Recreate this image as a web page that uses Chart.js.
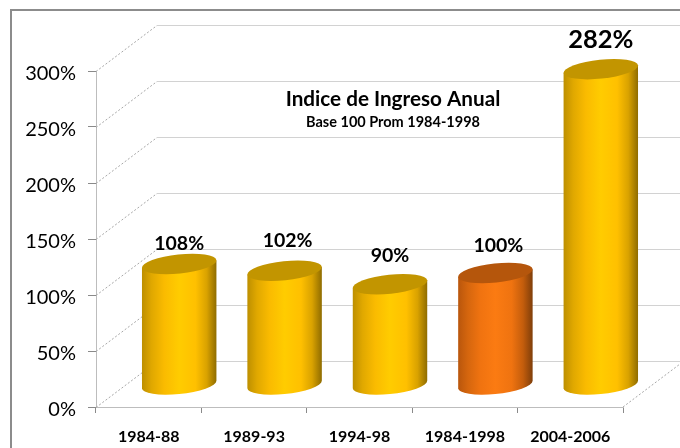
<!DOCTYPE html>
<html>
<head>
<meta charset="utf-8">
<title>Indice de Ingreso Anual</title>
<script src="https://cdn.jsdelivr.net/npm/chart.js@4"></script>
<style>
  html, body { margin: 0; padding: 0; background: #fff; }
  canvas { display: block; }
</style>
</head>
<body>
<canvas id="ingreso" width="680" height="448"></canvas>
<script>
const periodos = ['1984-88', '1989-93', '1994-98', '1984-1998', '2004-2006'];
const indice = [108, 102, 90, 100, 282];
const ticksY = [0, 50, 100, 150, 200, 250, 300];

// colores del cilindro, el de referencia va en naranja
const dorado = { top: '#c29500', stops: ['#bd8f00', '#e0a800', '#fabb00', '#ffcc00', '#ffc000', '#d9a200', '#8f6c00'] };
const naranja = { top: '#b5560c', stops: ['#b9560c', '#d5660e', '#f07310', '#fb7b12', '#ef7310', '#c45d0c', '#7f3e0a'] };
const coloresBarra = [dorado, dorado, dorado, naranja, dorado];

// ajustes de las etiquetas respecto a la cima de cada barra
const etiquetaDx = [0, 3, 0, 3, 0];
const etiquetaDy = [-20, -30, -28, -27, -29];
const etiquetaPx = [19.5, 19.5, 19.5, 19.5, 25.5];

const fondoDx = 61;
const fondoDy = 46;
const medioDx = 30.5;
const medioDy = 22;

function cilindro(ctx, cx, arriba, base, rx, color) {
    const ry = 9.5;
    const rot = -6 * Math.PI / 180;
    const t = Math.atan(-(ry / rx) * Math.tan(rot));
    const ax = rx * Math.cos(t) * Math.cos(rot) - ry * Math.sin(t) * Math.sin(rot);
    const ay = rx * Math.cos(t) * Math.sin(rot) + ry * Math.sin(t) * Math.cos(rot);

    const grad = ctx.createLinearGradient(cx - ax, 0, cx + ax, 0);
    const pos = [0, 0.13, 0.3, 0.5, 0.72, 0.87, 1];
    color.stops.forEach((c, i) => grad.addColorStop(pos[i], c));

    ctx.beginPath();
    ctx.moveTo(cx - ax, arriba - ay);
    ctx.lineTo(cx - ax, base - ay);
    ctx.ellipse(cx, base, rx, ry, rot, t + Math.PI, t, true);
    ctx.lineTo(cx + ax, arriba + ay);
    ctx.closePath();
    ctx.fillStyle = grad;
    ctx.fill();

    ctx.beginPath();
    ctx.ellipse(cx, arriba, rx, ry, rot, 0, Math.PI * 2);
    ctx.fillStyle = color.top;
    ctx.fill();
}

const grafico3d = {
    id: 'grafico3d',
    beforeDraw(chart) {
        const ctx = chart.ctx;
        ctx.save();
        ctx.fillStyle = '#fff';
        ctx.fillRect(0, 0, chart.width, chart.height);
        // marco
        ctx.strokeStyle = '#8c8c8c';
        ctx.lineWidth = 2;
        ctx.beginPath();
        ctx.moveTo(11, chart.height);
        ctx.lineTo(11, 10);
        ctx.lineTo(chart.width, 10);
        ctx.stroke();
        ctx.restore();
    },
    beforeDatasetsDraw(chart) {
        const ctx = chart.ctx;
        const x = chart.scales.x;
        const y = chart.scales.y;
        ctx.save();
        ctx.lineWidth = 1;
        ticksY.forEach(v => {
            const py = Math.round(y.getPixelForValue(v)) + 0.5;
            ctx.setLineDash([2, 2]);
            ctx.strokeStyle = '#a8a8a8';
            ctx.beginPath();
            ctx.moveTo(x.left, py);
            ctx.lineTo(x.left + fondoDx, py - fondoDy);
            ctx.stroke();
            ctx.setLineDash([]);
            ctx.strokeStyle = '#d2d2d2';
            ctx.beginPath();
            ctx.moveTo(x.left + fondoDx, py - fondoDy);
            ctx.lineTo(x.right + fondoDx, py - fondoDy);
            ctx.stroke();
        });
        // esquina derecha del piso
        const py0 = y.getPixelForValue(0);
        ctx.setLineDash([2, 2]);
        ctx.strokeStyle = '#a8a8a8';
        ctx.beginPath();
        ctx.moveTo(x.right, py0);
        ctx.lineTo(x.right + fondoDx, py0 - fondoDy);
        ctx.stroke();
        ctx.restore();
    },
    beforeDatasetDraw(chart, args) {
        const ctx = chart.ctx;
        const barras = chart.getDatasetMeta(args.index).data;
        ctx.save();
        barras.forEach((b, i) => {
            cilindro(ctx, b.x + medioDx, b.y - medioDy, b.base - medioDy, b.width / 2, coloresBarra[i]);
        });
        ctx.restore();
        return false;
    },
    afterDatasetsDraw(chart) {
        const ctx = chart.ctx;
        const barras = chart.getDatasetMeta(0).data;
        ctx.save();
        ctx.fillStyle = '#000';
        ctx.textAlign = 'center';
        ctx.textBaseline = 'middle';
        barras.forEach((b, i) => {
            ctx.font = 'bold ' + etiquetaPx[i] + 'px Lato';
            ctx.fillText(indice[i] + '%', b.x + medioDx + etiquetaDx[i], b.y - medioDy + etiquetaDy[i]);
        });
        ctx.font = 'bold 20.7px Lato';
        ctx.fillText('Indice de Ingreso Anual', 393, 99);
        ctx.font = 'bold 14.5px Lato';
        ctx.fillText('Base 100 Prom 1984-1998', 393, 122);
        ctx.restore();
    }
};

new Chart(document.getElementById('ingreso').getContext('2d'), {
    type: 'bar',
    data: {
        labels: periodos,
        datasets: [{
            label: 'Indice',
            data: indice,
            backgroundColor: coloresBarra.map(c => c.stops[3]),
            categoryPercentage: 1,
            barPercentage: 0.71
        }]
    },
    options: {
        responsive: false,
        animation: false,
        layout: { padding: { top: 71, right: 57, left: 0, bottom: 0 } },
        plugins: {
            legend: { display: false },
            tooltip: { enabled: false }
        },
        scales: {
            x: {
                afterFit(scale) { scale.height = 41; },
                grid: { offset: true, drawOnChartArea: false, tickLength: 6, color: '#8a8a8a' },
                border: { color: '#bdbdbd' },
                ticks: {
                    color: '#000',
                    padding: 14,
                    maxRotation: 0,
                    font: { family: 'Lato', size: 16, weight: 'bold' }
                }
            },
            y: {
                min: 0,
                max: 300,
                afterFit(scale) { scale.width = 96; },
                afterBuildTicks(scale) { scale.ticks = ticksY.map(v => ({ value: v })); },
                grid: { drawOnChartArea: false, tickLength: 8, color: '#8a8a8a' },
                border: { color: '#bdbdbd' },
                ticks: {
                    color: '#000',
                    padding: 12,
                    labelOffset: 3,
                    callback: v => v + '%',
                    font: { family: 'Lato', size: 20 }
                }
            }
        }
    },
    plugins: [grafico3d]
});
</script>
</body>
</html>
